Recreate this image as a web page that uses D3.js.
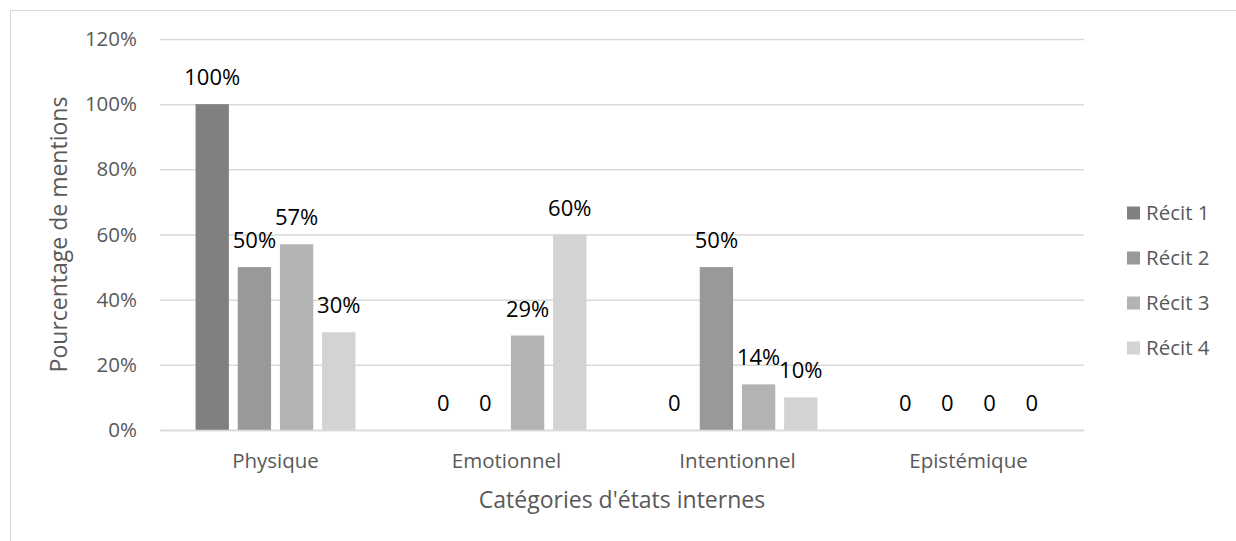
<!DOCTYPE html>
<html>
<head>
<meta charset="utf-8">
<script src="https://cdn.jsdelivr.net/npm/d3@7"></script>
<style>
  html, body { margin: 0; padding: 0; background: #fff; }
  svg { display: block; font-family: "Open Sans", "Noto Sans", sans-serif; }
</style>
</head>
<body>
<svg id="chart" width="1236" height="541"></svg>
<script>
const categories = ["Physique", "Emotionnel", "Intentionnel", "Epistémique"];
const seriesNames = ["Récit 1", "Récit 2", "Récit 3", "Récit 4"];
const recit1 = [1.00, 0, 0, 0];
const recit2 = [0.50, 0, 0.50, 0];
const recit3 = [0.57, 0.29, 0.14, 0];
const recit4 = [0.30, 0.60, 0.10, 0];
const seriesValues = [recit1, recit2, recit3, recit4];
const seriesColors = ["#808080", "#999999", "#b3b3b3", "#d3d3d3"];
const yTicks = [0, 0.2, 0.4, 0.6, 0.8, 1.0, 1.2];
const yTitle = "Pourcentage de mentions";
const xTitle = "Catégories d'états internes";

const svg = d3.select("#chart");
const W = 1236, H = 541;
const plot = { left: 160, right: 1084, top: 39, bottom: 430 };

// outer chart border (only top and left visible)
svg.append("rect")
  .attr("x", 10.5).attr("y", 10.5)
  .attr("width", W + 20).attr("height", H + 20)
  .attr("fill", "none").attr("stroke", "#d9d9d9").attr("stroke-width", 1);

const y = d3.scaleLinear().domain([0, 1.2]).range([plot.bottom, plot.top]);
const x0 = d3.scaleBand().domain(categories).range([plot.left, plot.right]).paddingInner(0).paddingOuter(0);
const groupW = x0.bandwidth() * 0.692;
const x1 = d3.scaleBand().domain(seriesNames)
  .range([(x0.bandwidth() - groupW) / 2, (x0.bandwidth() + groupW) / 2])
  .paddingInner(0.21).paddingOuter(0);

// gridlines
const yAxis = d3.axisLeft(y).tickValues(yTicks)
  .tickFormat(d => Math.round(d * 100) + "%")
  .tickSize(-(plot.right - plot.left)).tickPadding(23);
const gy = svg.append("g").attr("transform", `translate(${plot.left},0)`).call(yAxis);
gy.select(".domain").remove();
gy.selectAll(".tick line").attr("stroke", "#d9d9d9").attr("stroke-width", 1.5);
gy.selectAll(".tick text").attr("fill", "#595959").attr("font-size", 20.5)
  .attr("font-family", "'Open Sans', sans-serif");

// bars
const data = [];
categories.forEach((c, ci) => {
  seriesNames.forEach((s, si) => {
    data.push({ cat: c, series: s, value: seriesValues[si][ci], color: seriesColors[si] });
  });
});

const bars = svg.append("g");
bars.selectAll("rect").data(data).join("rect")
  .attr("x", d => x0(d.cat) + x1(d.series))
  .attr("y", d => y(d.value))
  .attr("width", x1.bandwidth())
  .attr("height", d => y(0) - y(d.value))
  .attr("fill", d => d.color);

// baseline axis
const xAxis = d3.axisBottom(x0).tickSize(0).tickPadding(23);
const gx = svg.append("g").attr("transform", `translate(0,${plot.bottom})`).call(xAxis);
gx.select(".domain").attr("stroke", "#d9d9d9").attr("stroke-width", 1.5);
gx.selectAll(".tick text").attr("fill", "#595959").attr("font-size", 20.5)
  .attr("font-family", "'Open Sans', sans-serif");

// data labels
svg.append("g").selectAll("text").data(data).join("text")
  .attr("x", d => x0(d.cat) + x1(d.series) + x1.bandwidth() / 2)
  .attr("y", d => y(d.value) - 19)
  .attr("text-anchor", "middle")
  .attr("font-size", 22)
  .attr("fill", "#000")
  .text(d => d.value === 0 ? "0" : Math.round(d.value * 100) + "%");

// axis titles
svg.append("text")
  .attr("x", (plot.left + plot.right) / 2).attr("y", 508)
  .attr("text-anchor", "middle").attr("font-size", 23).attr("fill", "#595959")
  .text(xTitle);
svg.append("text")
  .attr("transform", `translate(67,${(plot.top + plot.bottom) / 2}) rotate(-90)`)
  .attr("text-anchor", "middle").attr("font-size", 23).attr("fill", "#595959")
  .text(yTitle);

// legend
const legend = svg.append("g").selectAll("g").data(seriesNames).join("g")
  .attr("transform", (d, i) => `translate(1127,${213 + i * 45})`);
legend.append("rect").attr("x", 0).attr("y", -6.5).attr("width", 13).attr("height", 13)
  .attr("fill", (d, i) => seriesColors[i]);
legend.append("text").attr("x", 19).attr("y", 0).attr("dy", "0.35em")
  .attr("font-size", 20.5).attr("fill", "#595959").text(d => d);
</script>
</body>
</html>
